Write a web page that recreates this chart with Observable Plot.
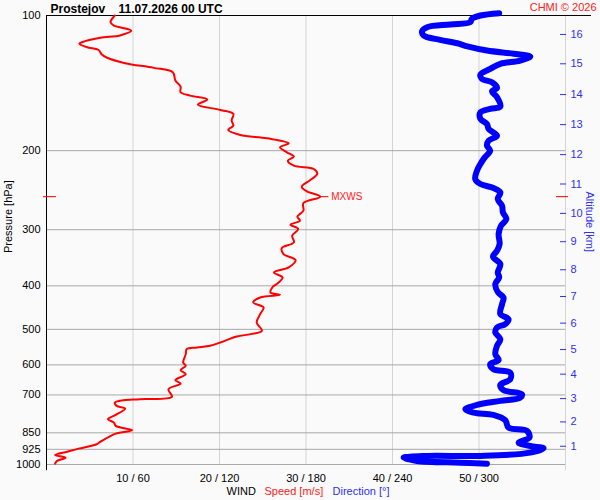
<!DOCTYPE html>
<html><head><meta charset="utf-8">
<script src="https://cdn.jsdelivr.net/npm/d3@7"></script>
<script src="https://cdn.jsdelivr.net/npm/@observablehq/plot@0.6"></script>
<style>html,body{margin:0;padding:0;background:#fafafa;}</style>
</head><body><div id="chart"></div>
<script>
const station = "Prostejov";
const stamp = "11.07.2026 00 UTC";
const credit = "CHMI © 2026";
const pressureTicks = [100, 200, 300, 400, 500, 600, 700, 850, 925, 1000];
const speedTicks = [10, 20, 30, 40, 50];
const directionTicks = [60, 120, 180, 240, 300];
const altitudeKm = [1, 2, 3, 4, 5, 6, 7, 8, 9, 10, 11, 12, 13, 14, 15, 16];
const altitudeP = [910.6, 803.8, 713.2, 629.2, 554.6, 484.3, 422.5, 368.4, 319.0, 275.9, 237.3, 204.1, 175.0, 150.0, 128.1, 110.2];
// [pressure hPa, wind speed m/s]
const speedProfile = [
[100,7.9],[103.5,7.4],[105.3,7.8],[108,9.8],[110.8,8.5],[112.1,6.2],[114.7,4.1],[115.6,3.8],[117.7,4.7],[119.2,6.0],
[122.2,6.4],[124.2,7.0],[127.7,9.1],[130.8,12.4],[133.8,14.6],[139.6,14.9],[144,15.5],[148.2,15.5],[150.8,16.6],[153.9,18.6],
[157.9,17.5],[162.3,20.1],[165.6,21.6],[171.4,21.4],[175.9,21.6],[179.8,21.0],[184.5,22.4],[187.7,25.5],[192.6,28.0],[196.6,27.0],
[201.7,27.8],[206.2,28.6],[210.5,27.9],[216,28.6],[219.7,30.9],[225.4,31.3],[232.4,30.5],[240.6,29.5],[246.4,30.1],[253.2,31.65],
[261.6,29.7],[272.1,29.7],[280.6,29.0],[286.5,29.3],[292.4,28.2],[298.9,29.1],[309.4,28.4],[320.2,28.6],[329.5,27.2],[339.8,27.4],
[350.5,28.8],[364,28.0],[373.5,26.3],[383.2,27.3],[395.2,26.7],[403.4,26.1],[413.9,25.9],[418.8,27.0],[424.6,24.7],[435.7,23.9],
[447,25.1],[462.4,24.7],[482.8,24.3],[503.8,24.9],[512.4,23.6],[518.7,22.0],[535,20.1],[544.1,18.9],[548.9,17.4],[553.4,16.2],
[567.8,16.1],[592.8,15.8],[603,16.1],[616.4,15.5],[629.2,16.1],[648.9,14.9],[660.3,15.5],[679.6,14.1],[706.9,14.5],[715.3,10.8],
[719,8.9],[727.9,7.9],[740.4,8.1],[750.8,9.1],[775.4,8.0],[792.6,7.1],[806.6,7.8],[820.4,8.0],[838.7,9.9],[853.5,8.0],
[890.8,6.2],[901.3,5.8],[921.9,3.7],[936.3,2.4],[952.2,1.0],[965.5,2.2],[982,1.2],[995.8,1.0]
];
// [pressure hPa, wind direction deg]
const directionProfile = [
[98.8,314],[100,301],[101.7,295],[103.5,294],[104.7,280],[106.2,264],[108.4,260.5],[110.8,261.6],[113.3,273],[115.3,285],
[117.2,292],[119.7,305.5],[121.7,324],[123.4,335.6],[126,328.6],[128.1,314.8],[131.5,307.8],[135.4,301],[138.4,302],[140.8,309],
[144.9,312.5],[147.5,309],[152.1,312.5],[159.5,314.8],[161.4,307.8],[164.3,301],[169.9,301],[174.4,305.5],[178.9,306.7],[185.2,312.5],
[189.9,306.7],[194.9,305.5],[200,307.8],[207,304],[214.1,301],[221.6,298.6],[231.3,297.4],[237.3,301],[242.2,310],[247.7,314.8],
[256.3,313],[265.2,316],[274.5,316.6],[284,319],[293.9,315.3],[306.7,313.6],[322.8,314.3],[334.1,312.5],[344.6,309.7],[357.8,314.8],
[373.5,313],[383.2,314],[396.4,311.3],[413.9,313.2],[424.6,317],[439.3,316],[462.4,314.8],[474.5,320.5],[486.8,318.2],[495.3,312.5],
[508.2,311.3],[525.8,314.8],[544.1,312.5],[567.8,311.3],[585.6,313.6],[597.7,307.8],[613.3,310],[624.1,321.7],[645.6,321.7],[664.7,314.8],
[683.1,317],[697.3,329.8],[709.5,328.6],[721.7,314.8],[736.6,298.6],[753.1,290.5],[766.4,296.2],[775.4,310],[796.8,318.2],[827.7,320.5],
[841.8,333.3],[871.3,335],[894,327.5],[909.3,335.6],[920.1,344.8],[941.1,335.6],[957.1,301],[957.1,264],[965.5,247.7],[982,257],
[990.6,287],[995.8,305.5]
];
const maxWind = {p: 253.2, s: 31.65, label: "MXWS"};
const speedMax = 60, dirMax = 360;

const speedRows = speedProfile.map(([p, s]) => ({p, s}));
const dirRows = directionProfile.map(([p, d]) => ({p, d}));
const kmByP = new Map(altitudeP.map((p, i) => [p, altitudeKm[i]]));
const dirBySpeed = new Map(speedTicks.map((s, i) => [s, directionTicks[i]]));

const red = "#ff0000", blue = "#0000ff", blueText = "#3030f0", redText = "#ff2020";

const chart = Plot.plot({
  width: 600, height: 500,
  marginTop: 15, marginRight: 35, marginBottom: 36, marginLeft: 46,
  x: {domain: [0, speedMax]},
  y: {type: "log", domain: [100, 1000], reverse: true},
  style: {background: "#fafafa", fontFamily: "'Liberation Sans', Arial, sans-serif", fontSize: "11px", overflow: "visible", color: "black"},
  marks: [
    Plot.gridX(speedTicks, {stroke: "#d4d4d4", strokeOpacity: 1}),
    Plot.ruleX([speedMax], {y1: 100, y2: 1032, stroke: "#d4d4d4"}),
    Plot.gridY(pressureTicks.slice(1), {stroke: "#a8a8a8", strokeOpacity: 1}),
    Plot.ruleY([100], {x1: 0, x2: 63, stroke: "black"}),
    Plot.ruleX([0], {y1: 100, y2: 1032, stroke: "black"}),
    Plot.line(dirRows, {x: d => d.d / dirMax * speedMax, y: "p", stroke: blue, strokeWidth: 6, curve: "catmull-rom", strokeLinejoin: "round", strokeLinecap: "round"}),
    Plot.line(speedRows, {x: "s", y: "p", stroke: red, strokeWidth: 2, curve: "catmull-rom"}),
    Plot.ruleY([maxWind], {y: "p", x1: "s", x2: d => d.s + 1, stroke: red}),
    Plot.text([maxWind], {x: "s", y: "p", text: "label", dx: 11, textAnchor: "start", fill: redText, fontSize: 10}),
    Plot.axisX(speedTicks, {tickSize: 0, tickPadding: 10, tickFormat: d => `${d} / ${dirBySpeed.get(d)}`, label: null, fill: "black"}),
    Plot.axisY(pressureTicks, {anchor: "left", tickSize: 0, tickPadding: 6, tickFormat: d => String(d), label: null, fill: "black"}),
    Plot.axisY(altitudeP, {anchor: "right", tickSize: 6, dx: -6, tickPadding: 5, tickFormat: d => String(kmByP.get(d)), stroke: blueText, fill: blueText, label: null}),
    Plot.axisY([maxWind.p], {anchor: "left", tickSize: 13, dx: 10, stroke: red, fill: "none", label: null}),
    Plot.axisY([maxWind.p], {anchor: "right", tickSize: 12, dx: -10, stroke: red, fill: "none", label: null}),
    Plot.text([`${station}\u00a0\u00a0\u00a0\u00a0${stamp}`], {text: d => d, frameAnchor: "top-left", dx: 4, dy: -3, lineAnchor: "bottom", textAnchor: "start", fontWeight: "bold", fontSize: 12, fill: "black"}),
    Plot.text([credit], {text: d => d, frameAnchor: "top-right", dx: 31, dy: -5, lineAnchor: "bottom", textAnchor: "end", fill: redText, fontSize: 11}),
    Plot.text(["Pressure [hPa]"], {text: d => d, frameAnchor: "left", dx: -38, dy: 13, rotate: -90, fill: "black", fontSize: 11}),
    Plot.text(["Altitude [km]"], {text: d => d, frameAnchor: "right", dx: 24, dy: 12, rotate: 90, fill: blueText, fontSize: 11}),
    Plot.text(["WIND"], {text: d => d, frameAnchor: "bottom-left", dx: 180, dy: 30, lineAnchor: "bottom", textAnchor: "start", fill: "black", fontSize: 11}),
    Plot.text(["Speed [m/s]"], {text: d => d, frameAnchor: "bottom-left", dx: 218, dy: 30, lineAnchor: "bottom", textAnchor: "start", fill: redText, fontSize: 11}),
    Plot.text(["Direction [°]"], {text: d => d, frameAnchor: "bottom-left", dx: 286, dy: 30, lineAnchor: "bottom", textAnchor: "start", fill: blueText, fontSize: 11})
  ]
});
document.getElementById("chart").appendChild(chart);
</script>
</body></html>
